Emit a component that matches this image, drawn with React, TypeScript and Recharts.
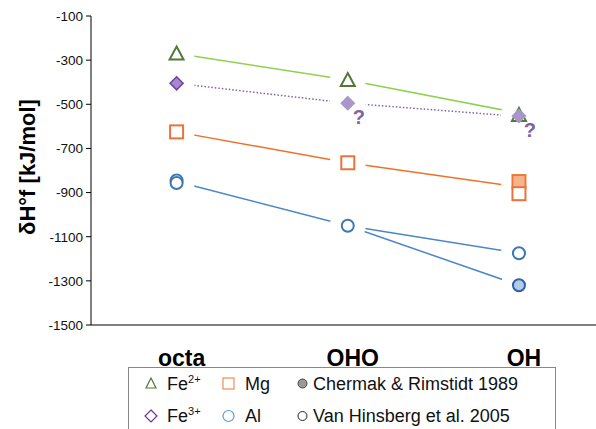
import { ComposedChart, Line, Scatter, XAxis, YAxis } from "recharts"

const categories = ["octa", "OHO", "OH"]
const yTicks = [-100, -300, -500, -700, -900, -1100, -1300, -1500]

// trend lines (octa, OHO, OH)
const fe2Line = [-270, -390, -540]
const fe3Line = [-405, -495, -555]
const mgLine = [-625, -765, -875]
const alLine = [-850, -1050, -1175]
const alLine2 = [null, -1050, -1320]

// markers: [category index, value]
const fe2Open = [[0, -270], [1, -390], [2, -548]]
const fe3Filled = [[0, -405]]
const fe3Light = [[1, -495], [2, -553]]
const mgOpen = [[0, -625], [1, -765], [2, -905]]
const mgFilled = [[2, -850]]
const alOpen = [[0, -845], [0, -857], [1, -1050], [2, -1175]]
const alFilled = [[2, -1320]]
const unsure = [[1, -495], [2, -553]]

const pts = (a: number[][]) => a.map(([x, y]) => ({ x, y }))

const rows = categories.map((c, i) => ({
  x: i,
  fe2: fe2Line[i],
  fe3: fe3Line[i],
  mg: mgLine[i],
  al: alLine[i],
  al2: alLine2[i],
}))

const allMarkers = pts([
  ...fe2Open, ...fe3Filled, ...fe3Light, ...mgOpen, ...mgFilled, ...alOpen, ...alFilled,
])

const font = "'Liberation Sans', Arial, sans-serif"

const Triangle = ({ cx, cy }: any) => (
  <path
    d={`M${cx},${cy - 7} L${cx + 7},${cy + 6} L${cx - 7},${cy + 6} Z`}
    fill="#fff"
    stroke="#4F7A35"
    strokeWidth={2}
  />
)
const diamond = (fill: string, stroke: string) => ({ cx, cy }: any) => (
  <path
    d={`M${cx},${cy - 6.5} L${cx + 6.5},${cy} L${cx},${cy + 6.5} L${cx - 6.5},${cy} Z`}
    fill={fill}
    stroke={stroke}
    strokeWidth={1.5}
  />
)
const square = (fill: string, stroke: string) => ({ cx, cy }: any) => (
  <rect x={cx - 6.5} y={cy - 6.5} width={13} height={13} fill={fill} stroke={stroke} strokeWidth={2} />
)
const circle = (fill: string, stroke: string) => ({ cx, cy }: any) => (
  <circle cx={cx} cy={cy} r={6} fill={fill} stroke={stroke} strokeWidth={2} />
)
const Halo = ({ cx, cy }: any) => <circle cx={cx} cy={cy} r={18} fill="#fff" />
const Question = ({ cx, cy }: any) => (
  <text x={cx + 11} y={cy + 21} textAnchor="middle" fontSize={20} fontWeight="bold" fill="#8064A2" fontFamily={font}>
    ?
  </text>
)

const XTick = ({ x, y, payload }: any) => (
  <text x={x + 5} y={y + 33} textAnchor="middle" fontSize={23} fontWeight="bold" fill="#000" fontFamily={font}>
    {categories[payload.value]}
  </text>
)

export default function App() {
  return (
    <div style={{ position: "absolute", left: 0, top: 0, width: 596, height: 429, background: "#fff" }}>
      <ComposedChart width={596} height={429} data={rows} margin={{ top: 16, right: 0, bottom: 64, left: 0 }}>
        <XAxis
          dataKey="x"
          type="number"
          domain={[-0.5, 2.45]}
          ticks={[0, 1, 2]}
          tickLine={false}
          axisLine={{ stroke: "#000" }}
          height={40}
          tick={<XTick />}
          allowDataOverflow
        />
        <YAxis
          type="number"
          domain={[-1500, -100]}
          ticks={yTicks}
          width={91}
          tickSize={5}
          tickMargin={3}
          axisLine={{ stroke: "#000" }}
          tickLine={{ stroke: "#000" }}
          tick={{ fontSize: 13.5, fill: "#111", fontFamily: font }}
          allowDataOverflow
        />
        <Line dataKey="fe2" stroke="#92D050" strokeWidth={1.5} dot={false} isAnimationActive={false} />
        <Line dataKey="fe3" stroke="#8064A2" strokeWidth={1.5} strokeDasharray="1.5 2" dot={false} isAnimationActive={false} />
        <Line dataKey="mg" stroke="#F07028" strokeWidth={1.5} dot={false} isAnimationActive={false} />
        <Line dataKey="al" stroke="#4A86C8" strokeWidth={1.5} dot={false} isAnimationActive={false} />
        <Line dataKey="al2" stroke="#4A86C8" strokeWidth={1.5} dot={false} isAnimationActive={false} />
        <Scatter data={allMarkers} dataKey="y" shape={<Halo />} isAnimationActive={false} />
        <Scatter data={pts(fe2Open)} dataKey="y" shape={<Triangle />} isAnimationActive={false} />
        <Scatter data={pts(fe3Filled)} dataKey="y" shape={diamond("#A688CC", "#7040A0")} isAnimationActive={false} />
        <Scatter data={pts(fe3Light)} dataKey="y" shape={diamond("#A797CB", "#A797CB")} isAnimationActive={false} />
        <Scatter data={pts(mgFilled)} dataKey="y" shape={square("#F9B38A", "#EE7A3A")} isAnimationActive={false} />
        <Scatter data={pts(mgOpen)} dataKey="y" shape={square("#fff", "#E8743B")} isAnimationActive={false} />
        <Scatter data={pts(alFilled)} dataKey="y" shape={circle("#B4CBE8", "#3060A8")} isAnimationActive={false} />
        <Scatter data={pts(alOpen)} dataKey="y" shape={circle("#fff", "#3C78B4")} isAnimationActive={false} />
        <Scatter data={pts(unsure)} dataKey="y" shape={<Question />} isAnimationActive={false} />
      </ComposedChart>
      <svg width={596} height={429} style={{ position: "absolute", left: 0, top: 0, pointerEvents: "none" }} fontFamily={font}>
        <text
          transform="translate(35,167) rotate(-90)"
          textAnchor="middle"
          fontSize={22}
          fontWeight="bold"
          fill="#000"
        >
          δH°f [kJ/mol]
        </text>
        <rect x={128.5} y={367.5} width={427} height={80} fill="#fff" stroke="#888" />
        <g fontSize={18} fill="#111">
          <path d="M151,378 L156,388 L146,388 Z" fill="none" stroke="#4F7A35" strokeWidth={1.2} />
          <text x={167} y={390}>Fe<tspan dy={-7} fontSize={11}>2+</tspan></text>
          <path d="M151,410 L157,416 L151,422 L145,416 Z" fill="none" stroke="#7030A0" strokeWidth={1.2} />
          <text x={167} y={422}>Fe<tspan dy={-7} fontSize={11}>3+</tspan></text>
          <rect x={223} y={378} width={11} height={11} fill="none" stroke="#F08C50" strokeWidth={1.2} />
          <text x={245} y={390}>Mg</text>
          <circle cx={228.5} cy={416} r={5.5} fill="none" stroke="#5B9BD5" strokeWidth={1.2} />
          <text x={245} y={422}>Al</text>
          <circle cx={302.5} cy={383.5} r={4.5} fill="#999" stroke="#444" strokeWidth={1} />
          <text x={313} y={390}>Chermak &amp; Rimstidt 1989</text>
          <circle cx={302.5} cy={416} r={4.5} fill="none" stroke="#222" strokeWidth={1} />
          <text x={313} y={422}>Van Hinsberg et al. 2005</text>
        </g>
      </svg>
    </div>
  )
}
